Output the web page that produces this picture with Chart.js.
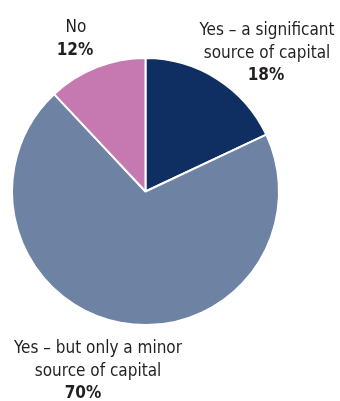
<!DOCTYPE html>
<html>
<head>
<meta charset="utf-8">
<script src="https://cdn.jsdelivr.net/npm/chart.js@4.4.1/dist/chart.umd.min.js"></script>
<style>
  html, body { margin: 0; padding: 0; background: #fff; }
  #wrap { width: 340px; height: 401px; position: relative; }
</style>
</head>
<body>
<div id="wrap"><canvas id="chart" width="340" height="401"></canvas></div>
<script>
  // Respuestas: ¿es fuente de capital?
  const categories = ['Yes \u2013 a significant source of capital', 'Yes \u2013 but only a minor source of capital', 'No'];
  const shares = [18, 70, 12];
  const colors = ['#0f2f63', '#6e82a3', '#c679b0'];

  // Rótulos de cada porción: líneas de texto + porcentaje
  const labelLines = [
    ['Yes \u2013 a significant', 'source of capital'],
    ['Yes \u2013 but only a minor', 'source of capital'],
    ['No']
  ];
  const labelPos = [
    { x: 267, y: 35, pctX: 266 },
    { x: 98,  y: 353, pctX: 83 },
    { x: 76,  y: 32, pctX: 75 }
  ];

  const FONT = '"DejaVu Sans Condensed", "Liberation Sans Narrow", sans-serif';
  const LINE_H = 22.5;
  // ancho de referencia de "Yes – a significant", para estrechar la letra
  const REF_W = 135;

  const labelsPlugin = {
    id: 'sliceLabels',
    afterDraw(chart){
      const ctx = chart.ctx;
      ctx.save();
      ctx.fillStyle = '#231f20';
      ctx.textAlign = 'center';
      ctx.textBaseline = 'alphabetic';
      ctx.font = `17px ${FONT}`;
      const sx = Math.min(1, REF_W / ctx.measureText(labelLines[0][0]).width);
      shares.forEach((v, i)=>{
        const p = labelPos[i];
        let y = p.y;
        const put = (t, x)=>{
          ctx.save();
          ctx.translate(x, y);
          ctx.scale(sx, 1);
          ctx.fillText(t, 0, 0);
          ctx.restore();
        };
        ctx.font = `17px ${FONT}`;
        labelLines[i].forEach(t=>{ put(t, p.x); y += LINE_H; });
        ctx.font = `bold 17px ${FONT}`;
        put(v + '%', p.pctX);
      });
      ctx.restore();
    }
  };

  new Chart(document.getElementById('chart').getContext('2d'), {
    type: 'pie',
    data: {
      labels: categories,
      datasets: [{
        data: shares,
        backgroundColor: colors,
        borderColor: '#ffffff',
        borderWidth: 2
      }]
    },
    options: {
      responsive: false,
      animation: false,
      layout: { padding: { left: 11, right: 60, top: 57, bottom: 75 } },
      plugins: {
        legend: { display: false },
        tooltip: { enabled: false }
      }
    },
    plugins: [labelsPlugin]
  });
</script>
</body>
</html>
